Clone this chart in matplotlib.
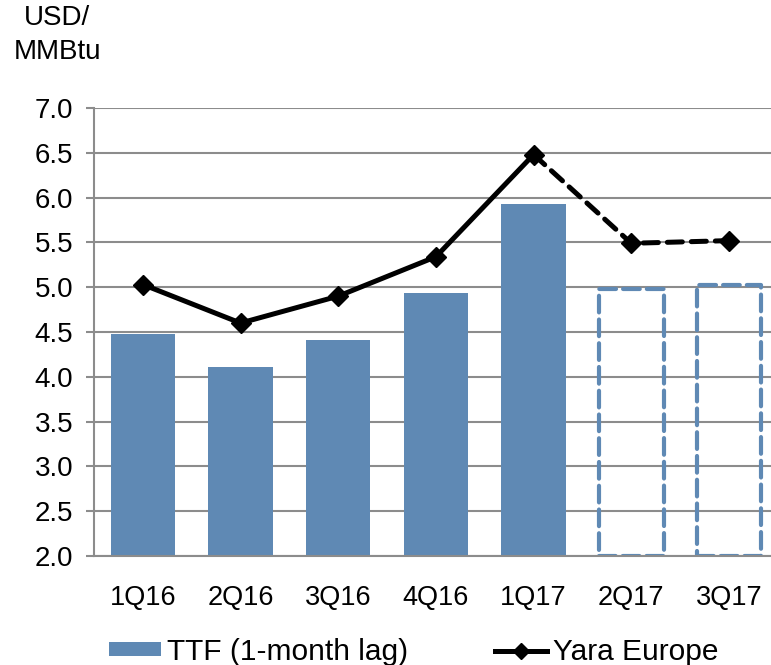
import matplotlib.pyplot as plt
import numpy as np
from matplotlib.lines import Line2D
from matplotlib.patches import Patch

plt.rcParams['font.family'] = ['Liberation Sans', 'DejaVu Sans']

# Data
quarters = ['1Q16', '2Q16', '3Q16', '4Q16', '1Q17', '2Q17', '3Q17']
ttf = [4.48, 4.11, 4.41, 4.94, 5.93, 4.98, 5.03]
yara = [5.03, 4.60, 4.90, 5.34, 6.48, 5.49, 5.52]
n_actual = 5  # first five quarters are actuals, rest are estimates

bar_color = '#5f89b4'
grid_color = '#8c8c8c'

fig = plt.figure(figsize=(7.71, 6.65), dpi=100)
ax = fig.add_axes([94 / 771, 1 - 556 / 665, 1 - 94 / 771, 448 / 665])

x = np.arange(len(quarters))
ax.bar(x[:n_actual], ttf[:n_actual], width=0.66, bottom=0, color=bar_color, zorder=2)
est = ax.bar(x[n_actual:], np.array(ttf[n_actual:]) - 2.0, width=0.66, bottom=2.0,
             facecolor='none', edgecolor=bar_color, linewidth=3, linestyle=(0, (4, 1.7)),
             zorder=2)
for b in est:
    b.set_joinstyle('round')
    b.set_capstyle('round')

ax.plot(x[:n_actual], yara[:n_actual], color='black', lw=3.6, marker='D', ms=10,
        zorder=3, solid_joinstyle='round')
ax.plot(x[n_actual - 1:], yara[n_actual - 1:], color='black', lw=3.6, ls=(0, (3, 1.8)),
        marker='D', ms=10, zorder=3, markevery=[1, 2], dash_capstyle='round')

ax.set_ylim(2.0, 7.0)
ax.set_xlim(-0.5, 6.43)
ticks = np.arange(2.0, 7.01, 0.5)
ax.set_yticks(ticks)
ax.set_yticklabels([f'{v:.1f}' for v in ticks])
ax.set_xticks(x)
ax.set_xticklabels(quarters)
ax.grid(axis='y', color=grid_color, lw=1.5, zorder=1)
ax.set_axisbelow(True)
for s in ['top', 'right']:
    ax.spines[s].set_visible(False)
for s in ['left', 'bottom']:
    ax.spines[s].set_color(grid_color)
    ax.spines[s].set_linewidth(1.5)
ax.tick_params(axis='y', length=6, width=1.5, color=grid_color, labelsize=20, pad=9)
ax.tick_params(axis='x', length=0, labelsize=19.5, pad=21)

fig.text(57 / 771, 1 - 18 / 665, 'USD/', ha='center', va='center', fontsize=20)
fig.text(58 / 771, 1 - 52 / 665, 'MMBtu', ha='center', va='center', fontsize=20)

handles = [Patch(facecolor=bar_color, edgecolor='none'),
           Line2D([0], [0], color='black', lw=3.6, marker='D', ms=8)]
fig.legend(handles, ['TTF (1-month lag)', 'Yara Europe'], loc='center left',
           bbox_to_anchor=(82 / 771, 1 - 652 / 665), ncol=2, frameon=False, fontsize=21.5,
           handlelength=1.75, handletextpad=0.2, columnspacing=2.9, handleheight=0.35)

fig.savefig('out.png', dpi=100)
